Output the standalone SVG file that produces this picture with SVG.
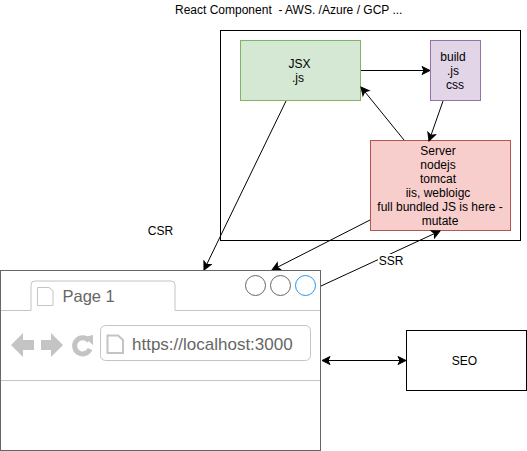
<svg xmlns="http://www.w3.org/2000/svg" width="527" height="451" viewBox="0 0 527 451">
<style>
text{font-family:"Liberation Sans",Arial,sans-serif;font-size:12px;fill:#000;text-anchor:middle}
.c{fill:none;stroke:#000;stroke-width:1}
.g{fill:#c4c4c4}
.t{font-size:17px;fill:#666;text-anchor:start}
</style>
<defs>
<marker id="a" markerUnits="userSpaceOnUse" markerWidth="12" markerHeight="12" refX="9" refY="5" orient="auto"><path d="M1 1L9 5L1 9L3 5Z" fill="#000" stroke="#000"/></marker>
<marker id="b" markerUnits="userSpaceOnUse" markerWidth="12" markerHeight="12" refX="1" refY="5" orient="auto"><path d="M9 1L1 5L9 9L7 5Z" fill="#000" stroke="#000"/></marker>
</defs>
<rect width="527" height="451" fill="#fff"/>
<g id="title"><text x="175" y="14" style="white-space:pre;text-anchor:start">React Component  - AWS. /Azure / GCP ...</text></g>
<g id="container"><rect x="220.500" y="30.500" width="300" height="210" fill="#fff" stroke="#000"/></g>
<g id="jsx"><rect x="240.500" y="40.500" width="120" height="60" fill="#d5e8d4" stroke="#82b366"/><text x="299.500" y="68">JSX</text><text x="298" y="82">.js</text></g>
<g id="build"><rect x="430.500" y="40.500" width="50" height="60" fill="#e1d5e7" stroke="#9673a6"/><text x="453" y="61">build</text><text x="453" y="75">.js</text><text x="455" y="89">css</text></g>
<g id="server"><rect x="370.500" y="140.500" width="140" height="90" fill="#f8cecc" stroke="#b85450"/>
<text x="438" y="155">Server</text><text x="438" y="169">nodejs</text><text x="438" y="183">tomcat</text><text x="438" y="197">iis, webloigc</text><text x="440" y="211">full bundled JS is here -</text><text x="440" y="225">mutate</text></g>
<g id="connectors">
<path class="c" d="M361 70.500H430" marker-end="url(#a)"/>
<path class="c" d="M443 101L429 141" marker-end="url(#a)"/>
<path class="c" d="M404 140L361 87" marker-end="url(#a)"/>
<path class="c" d="M286 101L204 270" marker-end="url(#a)"/>
<path class="c" d="M370 220L272 270" marker-end="url(#a)"/>
<path class="c" d="M321 286L440 231" marker-end="url(#a)"/>
<path class="c" d="M322 360.500H406" marker-start="url(#b)" marker-end="url(#a)"/>
</g>
<g id="csr-label"><text x="160.500" y="235">CSR</text></g>
<g id="ssr-label"><rect x="378" y="254" width="26" height="14" fill="#fff"/><text x="391" y="265">SSR</text></g>
<g id="browser">
<rect x="0.500" y="270.500" width="320" height="180" fill="#fff" stroke="#666"/>
<path d="M1 310.500H31V285Q31 281 35 281H171Q175 281 175 285V310.500H320M1 380.500H320" fill="none" stroke="#c4c4c4"/>
<path d="M37.500 287.500H49L53 291V305.500H37.500Z" fill="#fff" stroke="#c4c4c4"/>
<text class="t" x="62.500" y="302" style="font-size:16.500px">Page 1</text>
<circle cx="255.500" cy="285.500" r="10" fill="#fff" stroke="#666"/>
<circle cx="280.500" cy="285.500" r="10" fill="#fff" stroke="#666"/>
<circle cx="305.500" cy="285.500" r="10" fill="#fff" stroke="#2196f3"/>
<path class="g" d="M11 345L23 333V340H34V350H23V357Z"/>
<path class="g" d="M63 345L51 333V340H41V350H51V357Z"/>
<path d="M89 341A8 8 0 1 0 90 349" fill="none" stroke="#c4c4c4" stroke-width="5"/>
<path class="g" d="M84 337L93 335V345Z"/>
<rect x="100.500" y="325.500" width="210" height="35" rx="5" fill="#fff" stroke="#c4c4c4"/>
<path d="M107.500 335.500H118L123 340V353H107.500Z" fill="#fff" stroke="#c4c4c4" stroke-width="2"/>
<text class="t" x="132" y="350">https://localhost:3000</text>
</g>
<g id="seo"><rect x="406.500" y="330.500" width="120" height="60" fill="#fff" stroke="#000"/><text x="464.500" y="365">SEO</text></g>
</svg>
